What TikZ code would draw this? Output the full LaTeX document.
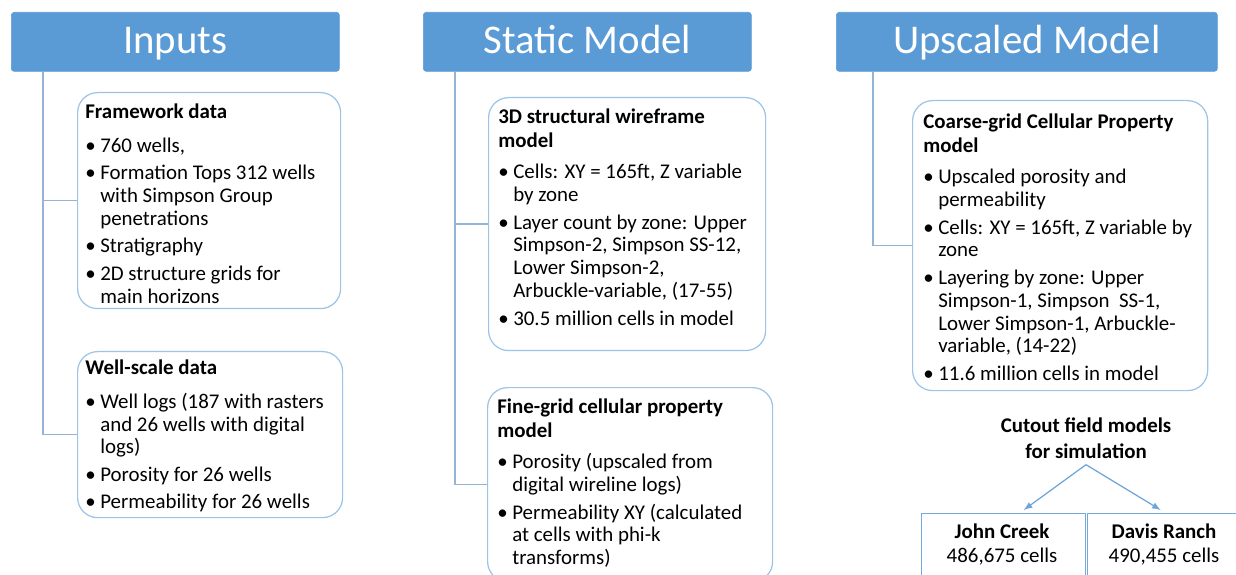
\documentclass[tikz,border=0pt]{standalone}
\usepackage{fontspec}
\setmainfont{Carlito}
\definecolor{headblue}{HTML}{5B9BD5}
\definecolor{boxblue}{HTML}{9DC3E6}
\definecolor{linkblue}{HTML}{95B3D7}
\newcommand{\bul}{\makebox[8.5pt][l]{\textbullet}}
\tikzset{
  header/.style={fill=headblue, draw=headblue, rounded corners=0.06cm, text=white,
    font=\fontsize{23.2}{27}\selectfont, text height=16pt, text depth=3pt,
    minimum height=1.18cm, anchor=north west, inner sep=0},
  databox/.style={draw=boxblue, line width=0.7pt, rounded corners=0.4cm, anchor=north west, inner sep=0},
  cellbox/.style={draw=headblue!85, line width=0.8pt, anchor=north west, inner sep=0,
    minimum height=1.6cm},
  boxtext/.style={anchor=north west, inner sep=0, font=\fontsize{11.9}{13}\selectfont},
  celltext/.style={inner sep=0, align=center, font=\fontsize{11.9}{14.2}\selectfont},
  link/.style={draw=linkblue, line width=0.7pt},
  cutarrow/.style={draw=headblue!90, line width=0.7pt, -latex},
}
\begin{document}
\begin{tikzpicture}
    \useasboundingbox (0,0) rectangle (24.72,-11.5);
    \clip (0,0) rectangle (24.72,-11.5);
    % column headers
    \node[header, minimum width=6.56cm] (inputs) at (0.22,-0.24) {Inputs};
    \node[header, minimum width=6.56cm] (static) at (8.46,-0.24) {Static Model};
    \node[header, minimum width=7.62cm] (upscaled) at (16.72,-0.24) {Upscaled Model};
    % rounded boxes
    \node[databox, minimum width=5.26cm, minimum height=4.32cm] (frame) at (1.54,-1.84) {};
    \node[databox, minimum width=5.30cm, minimum height=3.32cm] (well) at (1.54,-7.02) {};
    \node[databox, minimum width=5.54cm, minimum height=5.06cm] (wire) at (9.76,-1.94) {};
    \node[databox, minimum width=5.70cm, minimum height=3.88cm] (fine) at (9.74,-7.74) {};
    \node[databox, minimum width=5.90cm, minimum height=5.80cm] (coarse) at (18.24,-2.00) {};
    % trunk lines
    \coordinate (trunkA) at ([xshift=0.64cm]inputs.south west);
    \coordinate (trunkB) at ([xshift=0.64cm]static.south west);
    \coordinate (trunkC) at ([xshift=0.74cm]upscaled.south west);
    \draw[link] (trunkA) |- (well.west);
    \draw[link] (frame.west) -- (frame.west -| trunkA);
    \draw[link] (trunkB) |- (fine.west);
    \draw[link] (wire.west) -- (wire.west -| trunkB);
    \draw[link] (trunkC) |- (coarse.west);
    % box texts
    \node[boxtext] (frametext) at ([shift={(0.16,-0.2)}]frame.north west) {%
      \begin{tabular}{@{}l@{}l@{}}
      \multicolumn{2}{@{}l@{}}{\textbf{Framework data}}\\[6.3pt]
      \bul & 760 wells,\\[2.6pt]
      \bul & Formation Tops 312 wells\\
           & with Simpson Group\\
           & penetrations\\[2.6pt]
      \bul & Stratigraphy\\[2.6pt]
      \bul & 2D structure grids for\\
           & main horizons
      \end{tabular}};
    \node[boxtext] (welltext) at ([shift={(0.16,-0.14)}]well.north west) {%
      \begin{tabular}{@{}l@{}l@{}}
      \multicolumn{2}{@{}l@{}}{\textbf{Well-scale data}}\\[6.3pt]
      \bul & Well logs (187 with rasters\\
           & and 26 wells with digital\\
           & logs)\\[2.6pt]
      \bul & Porosity for 26 wells\\[2.6pt]
      \bul & Permeability for 26 wells
      \end{tabular}};
    \node[boxtext] (wiretext) at ([shift={(0.2,-0.2)}]wire.north west) {%
      \begin{tabular}{@{}l@{}l@{}}
      \multicolumn{2}{@{}l@{}}{\textbf{3D structural wireframe}}\\[0.6pt]
      \multicolumn{2}{@{}l@{}}{\textbf{model}}\\[5pt]
      \bul & Cells: XY = 165ft, Z variable\\
           & by zone\\[2.6pt]
      \bul & Layer count by zone: Upper\\
           & Simpson-2, Simpson SS-12,\\
           & Lower Simpson-2,\\
           & Arbuckle-variable, (17-55)\\[2.6pt]
      \bul & 30.5 million cells in model
      \end{tabular}};
    \node[boxtext] (finetext) at ([shift={(0.2,-0.2)}]fine.north west) {%
      \begin{tabular}{@{}l@{}l@{}}
      \multicolumn{2}{@{}l@{}}{\textbf{Fine-grid cellular property}}\\[0.6pt]
      \multicolumn{2}{@{}l@{}}{\textbf{model}}\\[5pt]
      \bul & Porosity (upscaled from\\
           & digital wireline logs)\\[2.6pt]
      \bul & Permeability XY (calculated\\
           & at cells with phi-k\\
           & transforms)
      \end{tabular}};
    \node[boxtext] (coarsetext) at ([shift={(0.22,-0.24)}]coarse.north west) {%
      \begin{tabular}{@{}l@{}l@{}}
      \multicolumn{2}{@{}l@{}}{\textbf{Coarse-grid Cellular Property}}\\[0.6pt]
      \multicolumn{2}{@{}l@{}}{\textbf{model}}\\[5pt]
      \bul & Upscaled porosity and\\
           & permeability\\[2.6pt]
      \bul & Cells: XY = 165ft, Z variable by\\
           & zone\\[2.6pt]
      \bul & Layering by zone: Upper\\
           & Simpson-1, Simpson\ \ SS-1,\\
           & Lower Simpson-1, Arbuckle-\\
           & variable, (14-22)\\[2.6pt]
      \bul & 11.6 million cells in model
      \end{tabular}};
    % cutout models
    \node[celltext, font=\bfseries\fontsize{11.9}{14.7}\selectfont] (cutout) at (21.72,-8.76)
      {Cutout field models\\for simulation};
    \coordinate (split) at ([yshift=-0.12cm]cutout.south);
    \node[cellbox, minimum width=3.28cm] (john) at (18.42,-10.26) {};
    \node[cellbox, minimum width=3.30cm] (davis) at (21.74,-10.26) {};
    \draw[cutarrow] (split) -- ([shift={(0.4,0.06)}]john.north);
    \draw[cutarrow] (split) -- ([shift={(-0.19,0.06)}]davis.north);
    \node[celltext] (johntext) at (20.04,-10.89) {\textbf{John Creek}\\486,675 cells};
    \node[celltext] (davistext) at (23.28,-10.89) {\textbf{Davis Ranch}\\490,455 cells};
\end{tikzpicture}
\end{document}
